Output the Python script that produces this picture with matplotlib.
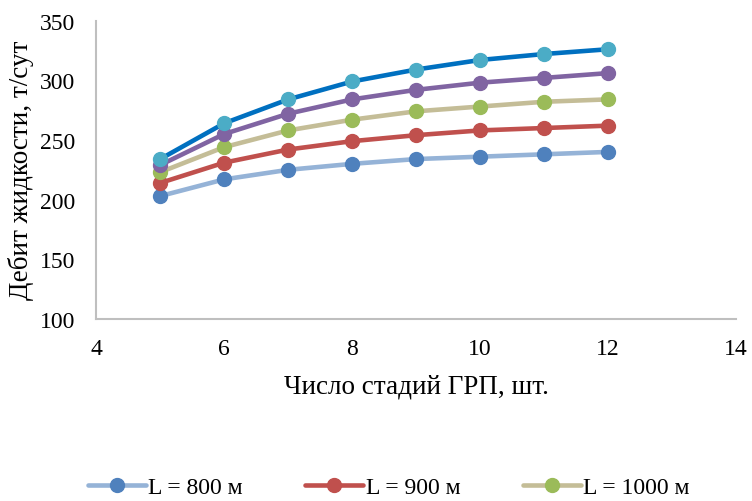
import numpy as np
import matplotlib.pyplot as plt

plt.rcParams['font.family'] = ['Liberation Serif', 'DejaVu Serif']

# data
stages = [5, 6, 7, 8, 9, 10, 11, 12]
q_800 = [203, 217, 225, 230, 234, 236, 238, 240]
q_900 = [214, 231, 242, 249, 254, 258, 260, 262]
q_1000 = [223, 244, 258, 267, 274, 278, 282, 284]
q_1100 = [229, 255, 272, 284, 292, 298, 302, 306]
q_1200 = [234, 264, 284, 299, 309, 317, 322, 326]
labels = ['L = 800 м', 'L = 900 м', 'L = 1000 м', 'L = 1100 м', 'L = 1200 м']

series = [q_800, q_900, q_1000, q_1100, q_1200]
line_colors = ['#95B3D7', '#C0504D', '#C4BD97', '#8064A2', '#0070C0']
marker_colors = ['#4F81BD', '#C0504D', '#9BBB59', '#8064A2', '#4BACC6']

fig = plt.figure(figsize=(7.52, 5.02), dpi=100)
ax = fig.add_axes([0.128, 0.3625, 0.851, 0.5945])

handles = []
for y, lab, lc, mc in zip(series, labels, line_colors, marker_colors):
    h, = ax.plot(stages, y, color=lc, lw=3.3, marker='o', markersize=10,
                 markerfacecolor=mc, markeredgecolor=mc, label=lab,
                 solid_capstyle='round')
    handles.append(h)

ax.set_xlim(4, 14)
ax.set_ylim(100, 350)
ax.set_xticks(np.arange(4, 15, 2))
ax.set_yticks(np.arange(100, 351, 50))
ax.tick_params(length=0, labelsize=17)
ax.tick_params(axis='y', pad=15)
ax.tick_params(axis='x', pad=14)
for s in ['top', 'right']:
    ax.spines[s].set_visible(False)
for s in ['left', 'bottom']:
    ax.spines[s].set_color('#BFBFBF')
    ax.spines[s].set_linewidth(1.5)

ax.set_xlabel('Число стадий ГРП, шт.', fontsize=19.5, labelpad=10)
ax.set_ylabel('Дебит жидкости, т/сут', fontsize=19.5, labelpad=4)

# only the first legend row is visible in the reference (the rest is cropped)
fig.legend(handles[:3], labels[:3],
           loc='upper left', bbox_to_anchor=(0.117, 0.048), ncol=3,
           frameon=False, fontsize=17, borderpad=0, borderaxespad=0,
           handlelength=2.45, handletextpad=0.1, columnspacing=2.65)

fig.savefig('out.png', dpi=100)
